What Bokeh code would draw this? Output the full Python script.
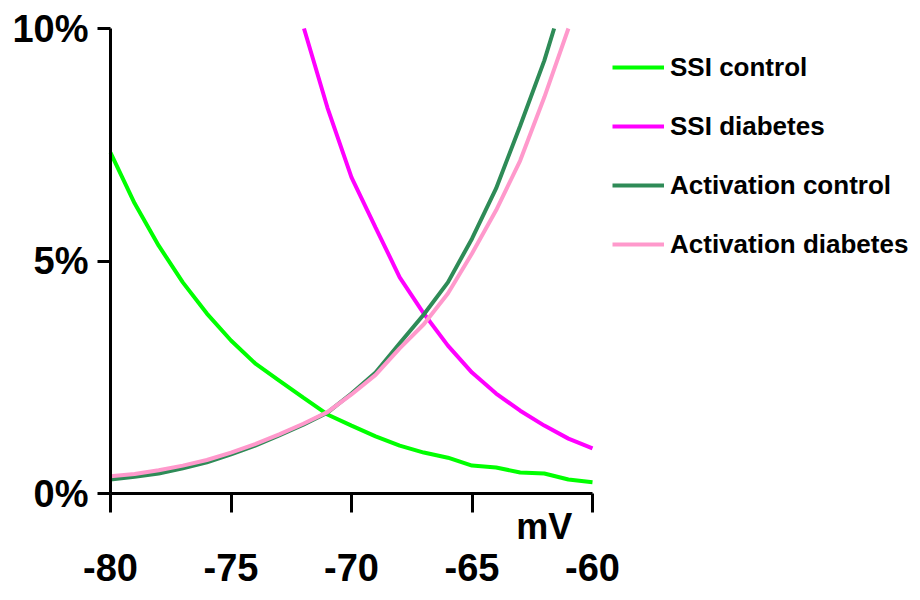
from bokeh.plotting import figure
from bokeh.models import Range1d, FixedTicker, Label
from bokeh.embed import file_html
from bokeh.resources import INLINE

FONT = "Liberation Sans"

mv = [-80, -79, -78, -77, -76, -75, -74, -73, -72, -71, -70,
      -69, -68, -67, -66, -65, -64, -63, -62, -61, -60]
ssi_control = [7.33, 6.24, 5.33, 4.54, 3.87, 3.29, 2.80, 2.43, 2.06, 1.70, 1.46,
               1.23, 1.03, 0.88, 0.77, 0.60, 0.56, 0.45, 0.43, 0.30, 0.24]
mv_ssi_diab = [-72, -71, -70, -69, -68, -67, -66, -65, -64, -63, -62, -61, -60]
ssi_diabetes = [10.05, 8.30, 6.80, 5.72, 4.65, 3.87, 3.18, 2.60, 2.15, 1.78, 1.46, 1.18, 0.97]
act_control = [0.30, 0.36, 0.43, 0.54, 0.67, 0.84, 1.03, 1.25, 1.48, 1.74, 2.15,
               2.60, 3.23, 3.85, 4.54, 5.48, 6.56, 7.91, 9.31, 11.0, 12.9]
act_diabetes = [0.37, 0.42, 0.50, 0.60, 0.72, 0.88, 1.06, 1.27, 1.50, 1.75, 2.13,
                2.55, 3.12, 3.64, 4.30, 5.16, 6.09, 7.16, 8.52, 10.0, 11.8]
x_ticks = [-80, -75, -70, -65, -60]
y_ticks = [0, 5, 10]
Y_MAX = 10


def clip_top(xs, ys, top):
    """Cut a polyline at y = top (the chart's upper limit); NaN breaks parts above it."""
    ox, oy = [], []
    n = len(xs)
    for i in range(n):
        if ys[i] <= top:
            if i > 0 and ys[i - 1] > top:
                t = (ys[i - 1] - top) / (ys[i - 1] - ys[i])
                ox.append(xs[i - 1] + t * (xs[i] - xs[i - 1])); oy.append(top)
            ox.append(xs[i]); oy.append(ys[i])
        else:
            if i > 0 and ys[i - 1] <= top:
                t = (top - ys[i - 1]) / (ys[i] - ys[i - 1])
                ox.append(xs[i - 1] + t * (xs[i] - xs[i - 1])); oy.append(top)
                ox.append(float("nan")); oy.append(float("nan"))
    return ox, oy


# whole canvas is the frame; -80..-60 spans 482 px from x=110, 0..10 % spans 465 px from y=28
W, H = 920, 600
sx, sy = 482 / 20, 465 / 10
x_start = -80 - 110 / sx
x_end = -80 + (W - 110) / sx
y_end = 10 + 28 / sy
y_start = 10 - (H - 28) / sy

p = figure(width=W, height=H, output_backend="svg", toolbar_location=None,
           x_range=Range1d(x_start, x_end), y_range=Range1d(y_start, y_end),
           min_border_left=0, min_border_right=0, min_border_top=0, min_border_bottom=0)
p.outline_line_color = None
p.grid.visible = False

x1, y1 = clip_top(mv, ssi_control, Y_MAX)
x2, y2 = clip_top(mv_ssi_diab, ssi_diabetes, Y_MAX)
x3, y3 = clip_top(mv, act_control, Y_MAX)
x4, y4 = clip_top(mv, act_diabetes, Y_MAX)
p.line(x1, y1, line_color="#00FF00", line_width=4, legend_label="SSI control")
p.line(x2, y2, line_color="#FF00FF", line_width=4, legend_label="SSI diabetes")
p.line(x3, y3, line_color="#2E8B57", line_width=4, legend_label="Activation control")
p.line(x4, y4, line_color="#FF99CC", line_width=4, legend_label="Activation diabetes")

for ax in (p.xaxis[0], p.yaxis[0]):
    ax.axis_line_width = 3
    ax.major_tick_line_width = 3
    ax.major_tick_in = 0
    ax.minor_tick_line_color = None
    ax.major_label_text_font = FONT
    ax.major_label_text_font_style = "bold"
    ax.major_label_text_color = "black"
    ax.major_label_text_font_size = "38px"

p.xaxis.ticker = FixedTicker(ticks=x_ticks)
p.xaxis.major_label_overrides = {t: str(t) for t in x_ticks}
p.xaxis.major_tick_out = 19
p.xaxis.major_label_standoff = 41
p.xaxis.fixed_location = 0
p.xaxis.bounds = (-80, -60)

p.yaxis.ticker = FixedTicker(ticks=y_ticks)
p.yaxis.major_label_overrides = {t: f"{t}%" for t in y_ticks}
p.yaxis.major_tick_out = 13
p.yaxis.major_label_standoff = 9
p.yaxis.fixed_location = -80
p.yaxis.bounds = (0, 10)

p.add_layout(Label(x=-62.0, y=-0.71, text="mV", text_font=FONT, text_font_style="bold",
                   text_font_size="36px", text_align="center", text_baseline="middle",
                   text_color="black"))

lg = p.legend[0]
lg.location = (602, 326)
lg.border_line_alpha = 0
lg.background_fill_alpha = 0
lg.padding = 10
lg.glyph_width = 52
lg.glyph_height = 40
lg.label_height = 40
lg.spacing = 19
lg.label_standoff = 6
lg.label_text_font = FONT
lg.label_text_font_style = "bold"
lg.label_text_font_size = "26px"
lg.label_text_color = "black"
lg.label_text_baseline = "middle"

open("out.html", "w").write(file_html(p, INLINE))
